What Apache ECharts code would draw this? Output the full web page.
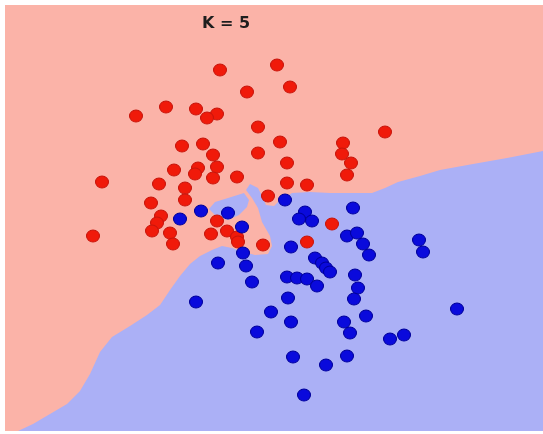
<!DOCTYPE html>
<html>
<head>
<meta charset="utf-8">
<script src="https://cdn.jsdelivr.net/npm/echarts@6/dist/echarts.min.js"></script>
<style>
  html, body { margin: 0; padding: 0; background: #ffffff; }
  #chart { width: 543px; height: 434px; }
</style>
</head>
<body>
<div id="chart"></div>
<script>
// Feature space of the plot
const xRange = [0, 53.8];
const yRange = [0, 42.6];

// Class A (red) training points
const redPoints = [
  [21.5, 36.1], [27.2, 36.6], [28.5, 34.4], [24.2, 33.9], [16.1, 32.4],
  [13.1, 31.5], [19.1, 32.2], [21.2, 31.7], [20.2, 31.3], [25.3, 30.4],
  [38.0, 29.9], [17.7, 28.5], [19.8, 28.7], [27.5, 28.9], [33.8, 28.8],
  [20.8, 27.6], [25.3, 27.8], [33.7, 27.7], [9.7, 24.9], [16.9, 26.1],
  [19.3, 26.3], [19.0, 25.7], [21.2, 26.4], [20.8, 25.3], [23.2, 25.4],
  [28.2, 26.8], [34.6, 26.8], [34.2, 25.6], [15.4, 24.7], [18.0, 24.3],
  [28.2, 24.8], [30.2, 24.6], [18.0, 23.1], [14.6, 22.8], [15.6, 21.5],
  [15.2, 20.8], [14.7, 20.0], [16.5, 19.8], [16.8, 18.7], [8.8, 19.5],
  [21.2, 21.0], [20.6, 19.7], [22.2, 20.0], [23.2, 19.4], [23.3, 18.9],
  [26.3, 23.5], [32.7, 20.7], [30.2, 18.9], [25.8, 18.6]
];

// Class B (blue) training points
const bluePoints = [
  [17.5, 21.2], [19.6, 22.0], [22.3, 21.8], [23.7, 20.4], [28.0, 23.1],
  [30.0, 21.9], [29.4, 21.2], [30.7, 21.0], [34.8, 22.3], [28.6, 18.4],
  [34.2, 19.5], [35.2, 19.8], [35.8, 18.7], [36.4, 17.6], [41.4, 19.1],
  [41.8, 17.9], [21.3, 16.8], [23.8, 17.8], [24.1, 16.5], [24.7, 14.9],
  [31.0, 17.3], [31.7, 16.8], [32.1, 16.3], [32.5, 15.9], [28.2, 15.4],
  [29.2, 15.3], [30.2, 15.2], [31.2, 14.5], [35.0, 15.6], [35.3, 14.3],
  [34.9, 13.2], [28.3, 13.3], [19.1, 12.9], [26.6, 11.9], [28.6, 10.9],
  [25.2, 9.9], [33.9, 10.9], [34.5, 9.8], [36.1, 11.5], [38.5, 9.2],
  [39.9, 9.6], [45.2, 12.2], [28.8, 7.4], [32.1, 6.6], [34.2, 7.5],
  [29.9, 3.6]
];

// Decision region of class B (K = 5), outline vertices
const blueRegion = [
  [1.3, 0.0], [2.8, 0.7], [4.5, 1.7], [6.2, 2.7], [7.5, 4.0], [8.5, 5.7],
  [9.5, 7.9], [10.7, 9.4], [12.5, 10.5], [14.2, 11.6], [15.5, 12.6],
  [16.5, 14.1], [17.5, 15.5], [18.5, 16.7], [19.5, 17.5], [20.7, 18.1],
  [21.7, 18.5], [22.7, 18.3], [23.9, 17.9], [25.0, 17.6], [26.3, 17.7],
  [26.7, 18.5], [26.5, 19.5], [25.7, 20.9], [25.3, 22.3], [24.7, 23.3],
  [24.1, 24.1], [24.5, 24.7], [25.3, 24.3], [25.7, 23.5], [26.1, 22.6],
  [26.9, 22.5], [27.5, 23.1], [28.7, 23.8], [30.5, 23.9], [32.5, 23.8],
  [36.7, 23.8], [38.0, 24.3], [39.3, 24.9], [41.5, 25.5], [43.5, 26.1],
  [46.8, 26.7], [50.2, 27.3], [53.8, 28.0], [53.8, 0.0]
];

// Small class B pocket among the class A points
const bluePocket = [
  [20.4, 22.2], [21.0, 22.9], [22.3, 23.3], [23.9, 23.8],
  [24.4, 23.1], [24.2, 22.4], [23.4, 21.6], [22.3, 21.1], [21.2, 21.4]
];

// Class A fills the rest of the plane
const redRegion = [
  [xRange[0], yRange[0]], [xRange[1], yRange[0]],
  [xRange[1], yRange[1]], [xRange[0], yRange[1]]
];

const pinkFill = '#fbb3a8';
const blueFill = '#abb0f6';

function regionSeries(points, color, z) {
  return {
    type: 'custom',
    silent: true,
    z: z,
    data: [points[0]],
    renderItem: function (params, api) {
      return {
        type: 'polygon',
        shape: { points: points.map(function (p) { return api.coord(p); }) },
        style: { fill: color }
      };
    }
  };
}

const chart = echarts.init(document.getElementById('chart'), null, { renderer: 'canvas' });

chart.setOption({
  animation: false,
  backgroundColor: '#ffffff',
  title: {
    text: 'K = 5',
    left: 197,
    top: 11,
    textStyle: {
      fontFamily: 'DejaVu Sans',
      fontWeight: 'bold',
      fontSize: 16,
      color: '#1e1e1e'
    }
  },
  grid: { left: 5, top: 5, right: 0, bottom: 3 },
  xAxis: {
    type: 'value', min: xRange[0], max: xRange[1],
    show: false, splitLine: { show: false }
  },
  yAxis: {
    type: 'value', min: yRange[0], max: yRange[1],
    show: false, splitLine: { show: false }
  },
  series: [
    regionSeries(redRegion, pinkFill, 1),
    regionSeries(blueRegion, blueFill, 2),
    regionSeries(bluePocket, blueFill, 2),
    {
      type: 'scatter',
      z: 5,
      data: redPoints,
      symbol: 'circle',
      symbolSize: [13, 12],
      itemStyle: { color: '#f01a0a', borderColor: '#c8160c', borderWidth: 1, opacity: 1 }
    },
    {
      type: 'scatter',
      z: 5,
      data: bluePoints,
      symbol: 'circle',
      symbolSize: [13, 12],
      itemStyle: { color: '#0a0adc', borderColor: '#00009c', borderWidth: 1, opacity: 1 }
    }
  ]
});
</script>
</body>
</html>
